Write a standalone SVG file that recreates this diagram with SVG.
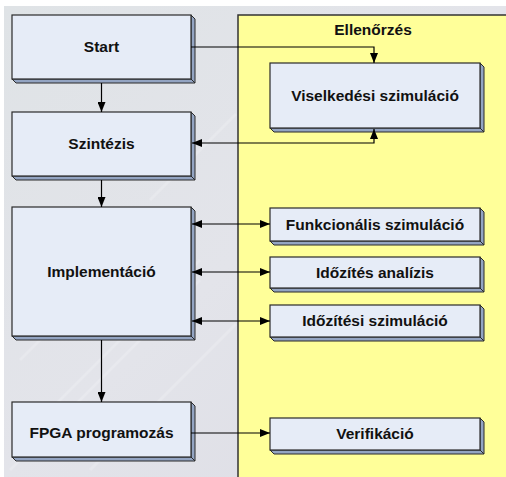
<svg xmlns="http://www.w3.org/2000/svg" width="506" height="477" viewBox="0 0 506 477">
<defs>
<linearGradient id="bg" x1="0" y1="0" x2="1" y2="1">
<stop offset="0" stop-color="#dfe3e6"/>
<stop offset="0.5" stop-color="#e3e4ea"/>
<stop offset="1" stop-color="#dcdce4"/>
</linearGradient>
<marker id="ah" viewBox="0 0 10 8" refX="10" refY="4" markerWidth="10" markerHeight="8" markerUnits="userSpaceOnUse" orient="auto-start-reverse">
<path d="M0,0 L10,4 L0,8 Z" fill="#000"/>
</marker>
</defs>
<style>
.front{fill:#e6ecf7;stroke:#2a2a2a;stroke-width:1.2}
.side{fill:#93a4c2;stroke:#2a2a2a;stroke-width:1}
.lbl{font-family:"Liberation Sans",Arial,sans-serif;font-weight:bold;font-size:15.5px;fill:#111;text-anchor:middle}
.con{fill:none;stroke:#000;stroke-width:1.2}
</style>
<rect x="0" y="0" width="506" height="477" fill="#ffffff"/>
<rect x="4" y="6" width="502" height="471" fill="url(#bg)"/>
<g stroke="#f4f5f8" stroke-width="3" opacity="0.3">
<line x1="20" y1="360" x2="140" y2="240"/>
<line x1="40" y1="420" x2="200" y2="260"/>
<line x1="10" y1="470" x2="200" y2="280"/>
<line x1="90" y1="470" x2="236" y2="324"/>
<line x1="150" y1="200" x2="236" y2="114"/>
</g>
<g id="panel">
<rect x="238" y="15" width="270" height="465" fill="#ffff99" stroke="#333" stroke-width="1.5"/>
<text class="lbl" x="373" y="35">Ellenőrzés</text>
</g>
<g id="start">
<polygon class="side" points="191,15 195,19 195,83 191,79"/>
<polygon class="side" points="12,79 191,79 195,83 16,83"/>
<rect class="front" x="12" y="15" width="179" height="64"/>
<text class="lbl" x="101.5" y="52">Start</text>
</g>
<g id="szintezis">
<polygon class="side" points="191,112 195,116 195,180 191,176"/>
<polygon class="side" points="12,176 191,176 195,180 16,180"/>
<rect class="front" x="12" y="112" width="179" height="64"/>
<text class="lbl" x="101.5" y="149">Szintézis</text>
</g>
<g id="implementacio">
<polygon class="side" points="191,207 195,211 195,340 191,336"/>
<polygon class="side" points="12,336 191,336 195,340 16,340"/>
<rect class="front" x="12" y="207" width="179" height="129"/>
<text class="lbl" x="101.5" y="277">Implementáció</text>
</g>
<g id="fpga">
<polygon class="side" points="191,402 195,406 195,461 191,457"/>
<polygon class="side" points="12,457 191,457 195,461 16,461"/>
<rect class="front" x="12" y="402" width="179" height="55"/>
<text class="lbl" x="101.5" y="438">FPGA programozás</text>
</g>
<g id="viselkedesi">
<polygon class="side" points="480,63 484,67 484,132 480,128"/>
<polygon class="side" points="270,128 480,128 484,132 274,132"/>
<rect class="front" x="270" y="63" width="210" height="65"/>
<text class="lbl" x="375" y="101">Viselkedési szimuláció</text>
</g>
<g id="funkcionalis">
<polygon class="side" points="480,208 484,212 484,245 480,241"/>
<polygon class="side" points="270,241 480,241 484,245 274,245"/>
<rect class="front" x="270" y="208" width="210" height="33"/>
<text class="lbl" x="375" y="230">Funkcionális szimuláció</text>
</g>
<g id="idozites-analizis">
<polygon class="side" points="480,257 484,261 484,292 480,288"/>
<polygon class="side" points="270,288 480,288 484,292 274,292"/>
<rect class="front" x="270" y="257" width="210" height="31"/>
<text class="lbl" x="375" y="278">Időzítés analízis</text>
</g>
<g id="idozitesi-szimulacio">
<polygon class="side" points="480,305 484,309 484,341 480,337"/>
<polygon class="side" points="270,337 480,337 484,341 274,341"/>
<rect class="front" x="270" y="305" width="210" height="32"/>
<text class="lbl" x="375" y="326">Időzítési szimuláció</text>
</g>
<g id="verifikacio">
<polygon class="side" points="480,418 484,422 484,454 480,450"/>
<polygon class="side" points="270,450 480,450 484,454 274,454"/>
<rect class="front" x="270" y="418" width="210" height="32"/>
<text class="lbl" x="375" y="439">Verifikáció</text>
</g>
<g id="connectors">
<path class="con" d="M101.5,83 V112" marker-end="url(#ah)"/>
<path class="con" d="M101.5,180 V207" marker-end="url(#ah)"/>
<path class="con" d="M101.5,340 V402" marker-end="url(#ah)"/>
<path class="con" d="M191,47 H374 V63" marker-end="url(#ah)"/>
<path class="con" d="M192,143 H374 V129" marker-start="url(#ah)" marker-end="url(#ah)"/>
<path class="con" d="M192,224 H270" marker-start="url(#ah)" marker-end="url(#ah)"/>
<path class="con" d="M192,272 H270" marker-start="url(#ah)" marker-end="url(#ah)"/>
<path class="con" d="M192,321 H270" marker-start="url(#ah)" marker-end="url(#ah)"/>
<path class="con" d="M191,433 H270" marker-end="url(#ah)"/>
</g>
</svg>
